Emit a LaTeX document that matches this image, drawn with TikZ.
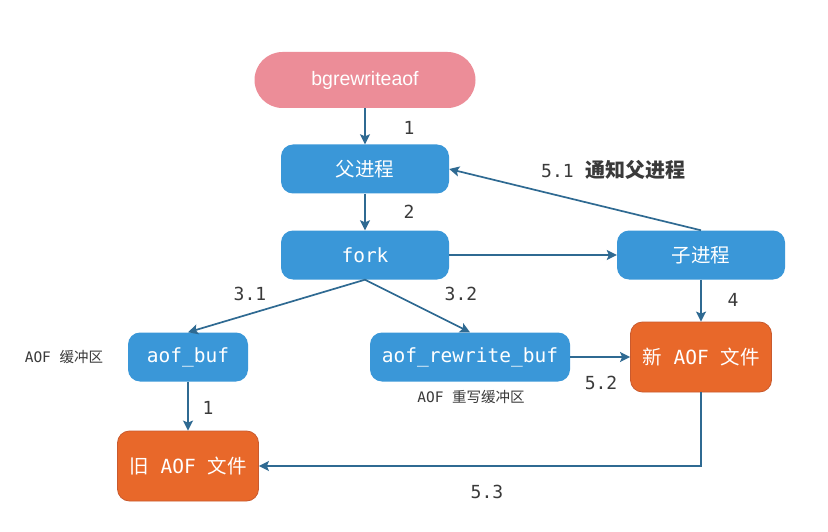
\documentclass[tikz,border=0pt]{standalone}
\usepackage{fontspec}
\setmainfont{DejaVu Sans Mono}
\newfontfamily\cjk{Noto Sans CJK SC}
\newfontfamily\arialfont{Liberation Sans}
\usetikzlibrary{arrows.meta}

\definecolor{pinkfill}{HTML}{EC8D98}
\definecolor{bluefill}{HTML}{3A97D8}
\definecolor{orangefill}{HTML}{E8682A}
\definecolor{orangeline}{HTML}{C95A2E}
\definecolor{arrowcol}{HTML}{2F6A92}
\definecolor{labelcol}{HTML}{3A3A3A}

\begin{document}
\begin{tikzpicture}[x=1pt,y=-1pt,
		proc/.style={fill=bluefill, text=white, rounded corners=12pt, inner sep=0pt,
			minimum width=168pt, minimum height=49pt, font=\fontsize{19.5}{21}\selectfont},
		buf/.style={proc, minimum width=120pt},
		aoffile/.style={fill=orangefill, draw=orangeline, line width=0.8pt, text=white,
			rounded corners=12pt, inner sep=0pt, minimum width=141pt, minimum height=70pt,
			font=\fontsize{19.5}{21}\selectfont},
		lbl/.style={text=labelcol, inner sep=0pt, font=\fontsize{18}{20}\selectfont},
		note/.style={text=labelcol, inner sep=0pt, font=\fontsize{14.5}{16}\selectfont},
		flow/.style={draw=arrowcol, line width=1.7pt, -{Stealth[length=10pt,width=10pt,inset=2pt]}}]
	\useasboundingbox[fill=white] (0,0) rectangle (828,532);

	\node[fill=pinkfill, text=white, rounded corners=28pt, inner sep=0pt,
		minimum width=221pt, minimum height=56pt,
		font=\arialfont\fontsize{19.5}{21}\selectfont] (bgrw) at (365,80) {bgrewriteaof};
	\node[proc] (parent) at (365,169) {\cjk 父进程};
	\node[proc] (fork) at (365,255) {fork};
	\node[proc] (child) at (701,255) {\cjk 子进程};
	\node[buf] (aofbuf) at (188,357) {aof\_buf};
	\node[buf, minimum width=200pt] (rewritebuf) at (470,357) {aof\_rewrite\_buf};
	\node[aoffile] (newaof) at (701,357) {{\cjk 新} AOF {\cjk 文件}};
	\node[aoffile] (oldaof) at (188,466) {{\cjk 旧} AOF {\cjk 文件}};

	\node[note] (aofbufnote) at (64,357) {AOF {\cjk 缓冲区}};
	\node[note] (rewritenote) at (471,397) {AOF {\cjk 重写缓冲区}};

	\draw[flow] (bgrw) -- (parent);
	\draw[flow] (parent) -- (fork);
	\draw[flow] (fork) -- (child);
	\draw[flow] (child.north) -- (parent.east);
	\draw[flow] (fork.south) -- (aofbuf.north);
	\draw[flow] (fork.south) -- (rewritebuf.north);
	\draw[flow] (child) -- (newaof);
	\draw[flow] (rewritebuf) -- (newaof);
	\draw[flow] (aofbuf) -- (oldaof);
	\draw[flow] (newaof.south) |- (oldaof.east);

	\node[lbl] (l1) at (409,128) {1};
	\node[lbl] (l2) at (409,212) {2};
	\node[lbl, anchor=west] (l51) at (541,170) {5.1\hspace{12pt}{\cjk\bfseries\fontsize{20}{22}\selectfont 通知父进程}};
	\node[lbl] (l31) at (250,294) {3.1};
	\node[lbl] (l32) at (461,294) {3.2};
	\node[lbl] (l4) at (733,300) {4};
	\node[lbl] (l52) at (601,383) {5.2};
	\node[lbl] (l1b) at (208,408) {1};
	\node[lbl] (l53) at (487,492) {5.3};
\end{tikzpicture}
\end{document}
